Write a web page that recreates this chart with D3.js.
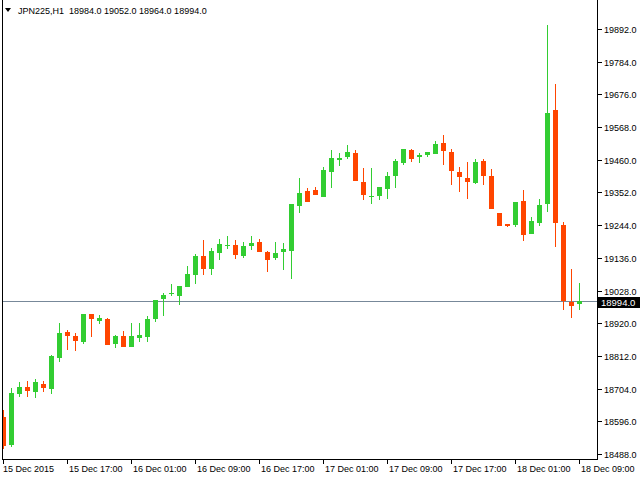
<!DOCTYPE html>
<html><head><meta charset="utf-8">
<script src="https://cdn.jsdelivr.net/npm/d3@7"></script>
<style>
body{margin:0;background:#fff}
svg{display:block}
text{font-family:"Liberation Sans",Arial,sans-serif;font-size:9px;fill:#000;white-space:pre}
</style>
</head><body><svg id="c" width="640" height="480"></svg>
<script>
const headerText = "JPN225,H1  18984.0 19052.0 18964.0 18994.0";
const opens  = [18610,18518,18686,18709,18693,18719,18703,18805,18891,18878,18858,18950,18927,18934,18851,18878,18841,18871,18874,18934,
                19000,19018,19010,19040,19079,19142,19099,19152,19177,19178,19142,19175,19188,19155,19136,19155,19159,19307,19357,19360,
                19337,19420,19460,19470,19482,19387,19339,19341,19364,19407,19449,19492,19470,19477,19480,19515,19486,19420,19400,19384,
                19456,19406,19284,19248,19245,19324,19216,19252,19315,19624,19244,18991,18984];
const highs  = [18633,18706,18726,18729,18736,18729,18815,18921,18898,18888,18951,18951,18947,18937,18881,18894,18921,18921,18944,18997,
                19020,19050,19043,19109,19149,19195,19169,19198,19208,19195,19188,19208,19198,19159,19188,19185,19314,19400,19367,19370,
                19436,19492,19482,19509,19492,19433,19433,19370,19420,19462,19496,19496,19482,19486,19522,19542,19496,19436,19453,19463,
                19463,19430,19284,19248,19320,19360,19271,19330,19905,19710,19253,19100,19052];
const lows   = [18504,18511,18676,18676,18673,18693,18686,18792,18832,18828,18851,18875,18918,18848,18838,18841,18841,18858,18858,18924,
                18944,19010,18980,19040,19050,19079,19079,19129,19165,19132,19136,19162,19155,19089,19129,19096,19066,19284,19320,19343,
                19337,19367,19440,19463,19390,19327,19314,19327,19331,19368,19444,19454,19450,19470,19480,19444,19378,19355,19331,19381,
                19378,19298,19242,19239,19239,19193,19216,19242,19288,19173,18965,18938,18964];
const closes = [18514,18690,18709,18696,18726,18706,18812,18888,18878,18861,18950,18934,18937,18848,18878,18841,18878,18881,18934,18997,
                19013,19021,19043,19083,19142,19099,19159,19182,19178,19145,19175,19185,19155,19129,19152,19165,19314,19350,19320,19343,
                19426,19466,19466,19486,19390,19344,19340,19370,19406,19456,19496,19464,19476,19486,19512,19490,19424,19404,19388,19453,
                19407,19298,19242,19242,19320,19212,19258,19311,19614,19250,18994,18978,18994];
const xTickBars   = [0,8,16,24,32,40,48,56,64,72];
const xTickLabels = ["15 Dec 2015","15 Dec 17:00","16 Dec 01:00","16 Dec 09:00","16 Dec 17:00",
                     "17 Dec 01:00","17 Dec 09:00","17 Dec 17:00","18 Dec 01:00","18 Dec 09:00"];
const yTicks = [18488,18596,18704,18812,18920,19028,19136,19244,19352,19460,19568,19676,19784,19892];
const currentPrice = 18994.0;

const bull = "#32CD32", bear = "#FF4500";
const svg = d3.select("#c");
const x = d3.scaleLinear().domain([0, 72]).range([3.5, 579.5]);
const y = d3.scaleLinear().domain([18488, 19892]).range([454, 29]);
const ry = v => Math.round(y(v));

const data = opens.map((o,i)=>({i, o, h:highs[i], l:lows[i], c:closes[i]}));

svg.append("defs").append("clipPath").attr("id","clip")
  .append("rect").attr("x",3).attr("y",0).attr("width",594).attr("height",459);

// current price line
svg.append("line")
  .attr("x1",3).attr("x2",597)
  .attr("y1",ry(currentPrice)+0.5).attr("y2",ry(currentPrice)+0.5)
  .attr("stroke","#778899").attr("stroke-width",1);

const g = svg.append("g").attr("clip-path","url(#clip)");
const cg = g.selectAll("g.c").data(data).join("g");
cg.append("rect")
  .attr("x", d => x(d.i)-0.5).attr("width",1)
  .attr("y", d => ry(d.h))
  .attr("height", d => Math.max(1, ry(d.l)-ry(d.h)))
  .attr("fill", d => d.c>=d.o ? bull : bear);
cg.append("rect")
  .attr("x", d => x(d.i)-2.5).attr("width",5)
  .attr("y", d => ry(Math.max(d.o,d.c)))
  .attr("height", d => Math.max(1, ry(Math.min(d.o,d.c))-ry(Math.max(d.o,d.c))))
  .attr("fill", d => d.c>=d.o ? bull : bear);

// frame
svg.append("line").attr("x1",2.5).attr("x2",2.5).attr("y1",0).attr("y2",460).attr("stroke","#000");
svg.append("line").attr("x1",2).attr("x2",598).attr("y1",459.5).attr("y2",459.5).attr("stroke","#000");
svg.append("line").attr("x1",597.5).attr("x2",597.5).attr("y1",0).attr("y2",460).attr("stroke","#000");

// y axis ticks & labels
const yt = svg.append("g").selectAll("g").data(yTicks).join("g")
  .attr("transform", d => `translate(0,${ry(d)+0.5})`);
yt.append("line").attr("x1",598).attr("x2",602).attr("stroke","#000");
yt.append("text").attr("x",604).attr("dy","0.35em").text(d => d.toFixed(1));

// current price box
svg.append("rect").attr("x",598).attr("y",ry(currentPrice)-4).attr("width",42).attr("height",11).attr("fill","#000");
svg.append("text").attr("x",601).attr("y",ry(currentPrice)+1.5).attr("dy","0.35em")
  .style("fill","#fff").style("font-size","9.5px").text(currentPrice.toFixed(1));

// x axis ticks & labels
const xt = svg.append("g").selectAll("g").data(xTickBars).join("g")
  .attr("transform", d => `translate(${x(d)},0)`);
xt.append("line").attr("y1",460).attr("y2",464).attr("stroke","#000");
xt.append("text").attr("x",(d,i)=> i===0 ? -0.5 : 1.5).attr("y",472).text((d,i)=>xTickLabels[i]);

// header
svg.append("path").attr("d","M5,8L11,8L8,12Z").attr("fill","#000");
svg.append("text").attr("x",18).attr("y",14).attr("xml:space","preserve").text(headerText);
</script>
</body></html>
